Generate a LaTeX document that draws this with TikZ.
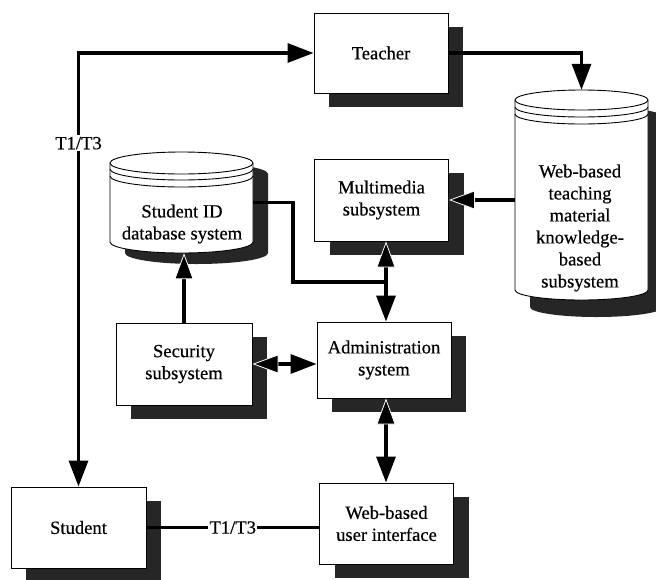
\documentclass[tikz,border=0pt]{standalone}
\usepackage{fontspec}
\setmainfont{Liberation Serif}[FakeBold=0.5]
\usetikzlibrary{arrows.meta,shadows}

% cylinder silhouette: centre x, top-ellipse centre y, y where the sides end, x radius, y radius
\newcommand\dbshape[5]{({#1-#4},#2) arc[start angle=180, end angle=360, x radius=#4, y radius=#5]
  -- ({#1+#4},#3) arc[start angle=0, end angle=180, x radius=#4, y radius=#5] -- cycle}
% front half of a rim ellipse
\newcommand\dbrim[4]{({#1-#3},#2) arc[start angle=180, end angle=0, x radius=#3, y radius=#4]}

\begin{document}
\begin{tikzpicture}[x=1pt,y=-1pt,
  every node/.style={font=\fontsize{18.6}{22}\selectfont},
  unit/.style={draw=black, line width=0.9pt, fill=white, align=center,
    minimum width=134pt, minimum height=81pt, inner sep=0pt,
    drop shadow={shadow xshift=15pt, shadow yshift=-14pt, fill=black!85, opacity=1}},
  % plain head, and a head outlined in white for tips that land on a shadow
  tipb/.tip={Triangle[length=26pt,width=19pt]},
  tipw/.tip={Triangle[length=26pt,width=19pt,color=white,fill=black,line width=0.8pt]},
  link/.style={line width=3.3pt, draw=black},
  tag/.style={fill=white, inner sep=1.5pt},
  hidden/.style={inner sep=0pt, draw=none},
  cylbody/.style={draw=black, line width=0.9pt, fill=white},
  cylshade/.style={fill=black!85},
  rim/.style={draw=black, line width=0.9pt},
]
\useasboundingbox (0,0) rectangle (656,579);

% ---- Student ID database (cylinder) ----
\begin{scope}[shift={(15,11)}]
  \fill[cylshade] \dbshape{181.5}{163}{242}{71.5}{11};
\end{scope}
\path[cylbody] \dbshape{181.5}{163}{242}{71.5}{11};
\draw[rim] \dbrim{181.5}{163}{71.5}{11};
\draw[rim] \dbrim{181.5}{169}{71.5}{11};
\draw[rim] \dbrim{181.5}{176}{71.5}{11};
\node[hidden, minimum width=143pt, minimum height=101pt] (sid) at (181.5,202.5) {};
\node[align=center] (sidtext) at (182,224) {Student ID\\database system};

% ---- teaching material knowledge base (cylinder) ----
\begin{scope}[shift={(15,17)}]
  \fill[cylshade] \dbshape{581.5}{100}{290}{66.5}{10};
\end{scope}
\path[cylbody] \dbshape{581.5}{100}{290}{66.5}{10};
\draw[rim] \dbrim{581.5}{100}{66.5}{10};
\draw[rim] \dbrim{581.5}{107}{66.5}{10};
\draw[rim] \dbrim{581.5}{114}{66.5}{10};
\node[hidden, minimum width=133pt, minimum height=210pt] (kb) at (581.5,195) {};
\node[align=center] (kbtext) at (580,228)
  {Web-based\\teaching\\material\\knowledge-\\based\\subsystem};

% ---- boxes ----
\node[unit, minimum height=80pt] (teacher) at (381,53) {Teacher};
\node[unit, minimum height=82pt] (mm) at (381.5,200) {Multimedia\\subsystem};
\node[unit, minimum height=76pt] (admin) at (384,360) {Administration\\system};
\node[unit] (webui) at (386.5,523.5) {Web-based\\user interface};
\node[unit, minimum width=136pt, minimum height=82pt] (sec) at (184,364) {Security\\subsystem};
\node[unit, minimum width=135pt] (student) at (78.5,527.5) {Student};

% ---- connectors ----
\coordinate (bend) at (293,282);
\coordinate (junc) at (386,282);

\draw[link, tipb-tipb] (teacher.west) -| node[tag, pos=0.604] {T1/T3} (student.north);
\draw[link, -tipb] (teacher.east) -| (kb.north);
\draw[link, -tipw] (kb.west |- mm.east) -- (mm.east);
\draw[link] (sid.east) -| (bend) -- (junc);
\draw[link, tipw-tipb] (mm.south -| junc) -- (admin.north -| junc);
\draw[link, -tipw] (sec.north) -- (sec.north |- sid.south);
\draw[link, tipw-tipb] (sec.east) -- (sec.east -| admin.west);
\draw[link, tipw-tipb] (admin.south -| junc) -- (webui.north -| junc);
\draw[link] (student.east) -- node[tag] {T1/T3} (student.east -| webui.west);
\end{tikzpicture}
\end{document}
